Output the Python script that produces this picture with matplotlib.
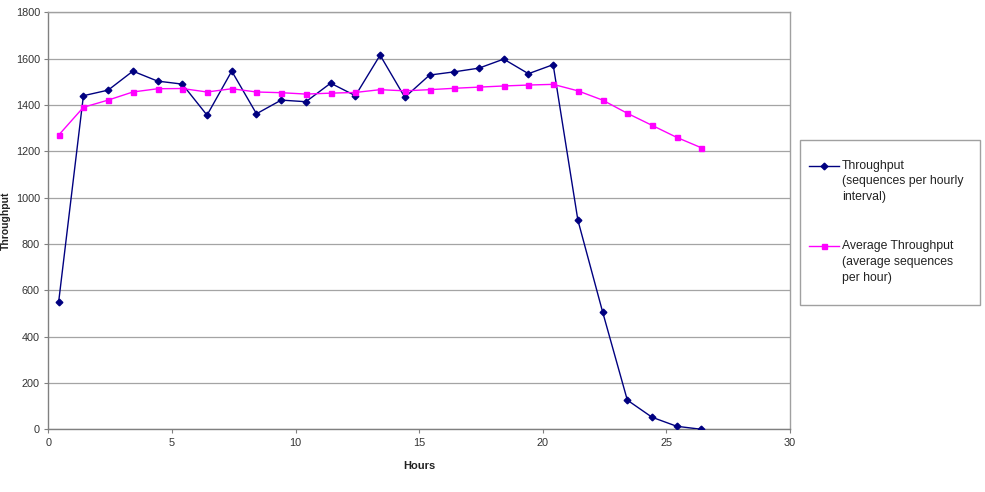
import matplotlib
matplotlib.use("Agg")
from matplotlib import pyplot as plt
from matplotlib.lines import Line2D
from matplotlib.patches import Rectangle
import numpy as np

plt.rcParams['font.family'] = ['Liberation Sans', 'DejaVu Sans']

# hours (midpoint of each hourly interval)
hours = [0.42, 1.42, 2.42, 3.42, 4.42, 5.42, 6.42, 7.42, 8.42, 9.42,
         10.42, 11.42, 12.42, 13.42, 14.42, 15.42, 16.42, 17.42, 18.42,
         19.42, 20.42, 21.42, 22.42, 23.42, 24.42, 25.42, 26.42]

throughput = [551, 1440, 1464, 1546, 1503, 1490, 1356, 1546, 1362, 1421,
              1414, 1494, 1440, 1615, 1433, 1529, 1543, 1559, 1598, 1535,
              1574, 903, 507, 126, 52, 13, 0]

avg_throughput = [1270, 1390, 1421, 1456, 1470, 1471, 1456, 1470, 1456, 1453,
                  1447, 1451, 1454, 1466, 1461, 1466, 1472, 1477, 1482, 1486,
                  1489, 1461, 1421, 1364, 1312, 1260, 1215]

label_tp = ['Throughput', '(sequences per hourly', 'interval)']
label_avg = ['Average Throughput', '(average sequences', 'per hour)']

navy = '#000080'
magenta = '#ff00ff'

fig = plt.figure(figsize=(9.85, 4.92), dpi=100)
W, H = 985.0, 492.0
ax = fig.add_axes([48.3 / W, 1 - 429.3 / H, (790 - 48.3) / W, (429.3 - 12.3) / H])

ax.plot(hours, throughput, color=navy, lw=1.0, marker='D', ms=3.4,
        markerfacecolor=navy, markeredgecolor=navy, zorder=3)
ax.plot(hours, avg_throughput, color=magenta, lw=1.0, marker='s', ms=3.6,
        markerfacecolor=magenta, markeredgecolor=magenta, zorder=3)

ax.set_xlim(0, 30)
ax.set_ylim(0, 1800)
ax.set_xticks(np.arange(0, 31, 5))
ax.set_yticks(np.arange(0, 1801, 200))
ax.yaxis.grid(True, color='#a4a4a4', lw=0.9)
ax.set_axisbelow(True)
for s in ax.spines.values():
    s.set_color('#a0a0a0')
    s.set_linewidth(1.0)
ax.spines['left'].set_color('#808080')
ax.spines['bottom'].set_color('#808080')
ax.tick_params(axis='both', labelsize=7.8, colors='#808080', labelcolor='#333333',
               length=3, width=0.8, direction='out', pad=3)

fig.text(419 / W, 1 - 466 / H, 'Hours', ha='center', va='center',
         fontsize=8, fontweight='bold', color='#222222')
fig.text(1 / W, 1 - 221 / H, 'Throughput', ha='left', va='center',
         rotation=90, fontsize=7.5, fontweight='bold', color='#222222')

# legend box drawn by hand so the marker sits on the first text line
fig.patches.append(Rectangle((800 / W, 1 - 305 / H), 180 / W, 165 / H,
                             transform=fig.transFigure, facecolor='white',
                             edgecolor='#a0a0a0', lw=1.0))
entries = [(label_tp, navy, 'D', 3.4, 165.5), (label_avg, magenta, 's', 3.6, 246.5)]
for lines, col, mk, ms, y0 in entries:
    fig.lines.append(Line2D([809 / W, 839 / W], [1 - y0 / H, 1 - y0 / H],
                            transform=fig.transFigure, color=col, lw=1.0))
    fig.lines.append(Line2D([824 / W], [1 - y0 / H], transform=fig.transFigure,
                            color=col, marker=mk, ms=ms, lw=0))
    for i, t in enumerate(lines):
        fig.text(842 / W, 1 - (y0 + i * 15.8) / H, t, ha='left', va='center',
                 fontsize=8.8, color='#222222')

fig.savefig('out.png', dpi=100)
